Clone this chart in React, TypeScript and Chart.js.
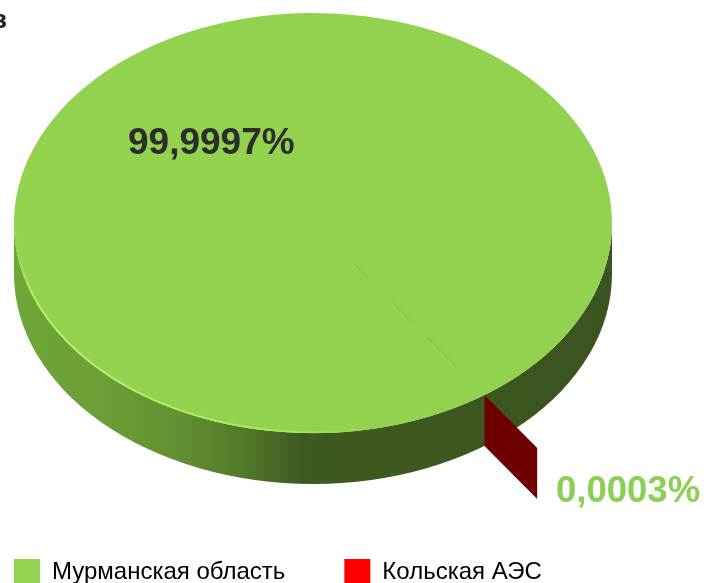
import React, { useEffect, useRef } from "react";
import { Chart, registerables } from "chart.js";

Chart.register(...registerables);

const categories = ["Мурманская область", "Кольская АЭС"];
const shares = [99.9997, 0.0003];
const shareLabels = ["99,9997%", "0,0003%"];
const sliceColors = ["#93d24f", "#6e0000"];
const legendColors = ["#94d350", "#ff0000"];
const titleTail = "в";

const CX = 313;
const CY = 223;
const RX = 299;
const RY = 210;
const DEPTH = 51;

const pie3d = {
  id: "pie3d",
  beforeDraw(chart: any) {
    if (chart.legend) {
      chart.legend.left = -45;
      chart.legend.top = 500;
      chart.legend.bottom = 583;
    }
  },
  beforeDatasetsDraw(chart: any) {
    const ctx = chart.ctx;
    const arcs = chart.getDatasetMeta(0).data;
    const main = arcs[0];
    const kola = arcs[1];
    const R = main.outerRadius;

    // side wall of the disc
    const g = ctx.createLinearGradient(CX - RX, 0, CX + RX, 0);
    g.addColorStop(0, "#6fa636");
    g.addColorStop(0.15, "#6c9e37");
    g.addColorStop(0.28, "#628f31");
    g.addColorStop(0.38, "#537a2a");
    g.addColorStop(0.48, "#3f5a20");
    g.addColorStop(1, "#3c5420");
    ctx.save();
    ctx.beginPath();
    ctx.ellipse(CX, CY, RX, RY, 0, 0, Math.PI);
    ctx.lineTo(CX - RX, CY + DEPTH);
    ctx.ellipse(CX, CY + DEPTH, RX, RY, 0, Math.PI, 0, true);
    ctx.closePath();
    ctx.fillStyle = g;
    ctx.fill();

    // cut face of the pulled-out slice
    const mid = (kola.startAngle + kola.endAngle) / 2;
    const ext = (R + kola.options.offset) / R;
    const ux = Math.cos(mid) * RX;
    const uy = Math.sin(mid) * RY;
    ctx.beginPath();
    ctx.moveTo(CX + ux, CY + uy);
    ctx.lineTo(CX + ux * ext, CY + uy * ext);
    ctx.lineTo(CX + ux * ext, CY + uy * ext + DEPTH);
    ctx.lineTo(CX + ux, CY + uy + DEPTH);
    ctx.closePath();
    ctx.fillStyle = sliceColors[1];
    ctx.fill();
    ctx.restore();

    // top face: the library's own arcs, squashed into an ellipse
    ctx.save();
    ctx.translate(CX, CY);
    ctx.scale(RX / R, RY / R);
    ctx.translate(-main.x, -main.y);
  },
  afterDatasetsDraw(chart: any) {
    const ctx = chart.ctx;
    ctx.restore();
    const kola = chart.getDatasetMeta(0).data[1];
    const mid = (kola.startAngle + kola.endAngle) / 2;
    const ux = Math.cos(mid) * RX;
    const uy = Math.sin(mid) * RY;

    // rim highlight
    const h = ctx.createLinearGradient(CX - RX, 0, CX + 60, 0);
    h.addColorStop(0, "#93d24f");
    h.addColorStop(0.06, "#b0f466");
    h.addColorStop(0.7, "#a8ea5e");
    h.addColorStop(1, "#93d24f");
    ctx.save();
    ctx.beginPath();
    ctx.ellipse(CX, CY, RX - 0.8, RY - 0.8, 0, Math.PI * 0.4, Math.PI * 0.99);
    ctx.strokeStyle = h;
    ctx.lineWidth = 2;
    ctx.stroke();

    // faint traces of the thin slice across the top
    ctx.strokeStyle = "#a3ab4c";
    ctx.lineWidth = 1;
    [
      [0.23, 0.31],
      [0.455, 0.57],
      [0.665, 0.84],
    ].forEach(([a, b]) => {
      ctx.beginPath();
      ctx.moveTo(CX + ux * a, CY + uy * a);
      ctx.lineTo(CX + ux * b, CY + uy * b);
      ctx.stroke();
    });

    // text
    ctx.textBaseline = "alphabetic";
    ctx.textAlign = "left";
    ctx.font = "bold 37px 'Liberation Sans'";
    ctx.fillStyle = "#2d2d2d";
    ctx.fillText(shareLabels[0], 128, 154);
    ctx.font = "bold 36.5px 'Liberation Sans'";
    ctx.fillStyle = "#8ccf55";
    ctx.fillText(shareLabels[1], 556, 502);
    ctx.font = "bold 26px 'Liberation Sans'";
    ctx.fillStyle = "#222222";
    ctx.textAlign = "right";
    ctx.fillText(titleTail, 7, 28);
    ctx.restore();
  },
};

export default function App() {
  const ref = useRef<HTMLCanvasElement>(null);
  useEffect(() => {
    document.body.style.margin = "0";
    const chart = new Chart(ref.current!, {
      type: "pie",
      data: {
        labels: categories,
        datasets: [
          {
            data: shares,
            backgroundColor: sliceColors,
            borderWidth: 0,
            offset: [0, 65],
            clip: false,
          } as any,
        ],
      },
      options: {
        responsive: false,
        devicePixelRatio: 1,
        animation: false,
        rotation: 145,
        plugins: {
          tooltip: { enabled: false },
          legend: {
            display: true,
            position: "bottom",
            align: "start",
            labels: {
              boxWidth: 26,
              boxHeight: 26,
              padding: 59,
              color: "#333333",
              font: { family: "'Liberation Sans'", size: 24 },
              generateLabels: () =>
                categories.map((text, i) => ({
                  text,
                  fillStyle: legendColors[i],
                  strokeStyle: legendColors[i],
                  lineWidth: 0,
                  hidden: false,
                  index: i,
                })),
            },
          },
        },
      },
      plugins: [pie3d],
    } as any);
    return () => chart.destroy();
  }, []);
  return <canvas ref={ref} width={704} height={583} style={{ display: "block" }} />;
}
